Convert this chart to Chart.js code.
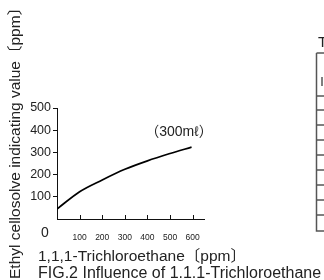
<!DOCTYPE html>
<html>
<head>
<meta charset="utf-8">
<script src="https://cdn.jsdelivr.net/npm/chart.js@4/dist/chart.umd.min.js"></script>
<style>
  html, body { margin: 0; padding: 0; background: #fff; }
  #wrap { width: 324px; height: 280px; position: relative; }
</style>
</head>
<body>
<div id="wrap"><canvas id="fig"></canvas></div>
<script>
const trichloroPpm = [0, 100, 200, 300, 400, 500, 595];
const cellosolveValue = [45, 123, 176, 224, 262, 295, 324];
const yTicks = [100, 200, 300, 400, 500];
const xTicks = [100, 200, 300, 400, 500, 600];

const FONT = '"Liberation Sans", Arial, "Noto Sans CJK JP", sans-serif';
const INK = '#222';

// inward tick marks on the x axis + all loose text of the figure
const figureText = {
    id: 'figureText',
    afterDraw(chart) {
        const { ctx, scales: { x, y } } = chart;
        ctx.save();
        ctx.strokeStyle = '#111';
        ctx.lineWidth = 1;
        xTicks.forEach(v => {
            const px = Math.round(x.getPixelForValue(v)) + 0.5;
            ctx.beginPath();
            ctx.moveTo(px, y.bottom);
            ctx.lineTo(px, y.bottom - 4);
            ctx.stroke();
        });

        ctx.fillStyle = INK;
        ctx.textBaseline = 'alphabetic';
        ctx.textAlign = 'left';

        ctx.font = '14px ' + FONT;
        ctx.fillText('0', 41, 237);

        ctx.font = '14px ' + FONT;
        ctx.fillText('（300mℓ）', x.getPixelForValue(390), y.getPixelForValue(372));

        ctx.font = '15.5px ' + FONT;
        ctx.fillText('1,1,1-Trichloroethane〔ppm〕', 38, 261);
        ctx.save();
        ctx.translate(20, 279);
        ctx.rotate(-Math.PI / 2);
        ctx.fillText('Ethyl cellosolve indicating value〔ppm〕', 0, 0);
        ctx.restore();

        ctx.font = '16px ' + FONT;
        ctx.fillText('FIG.2 Influence of 1.1.1-Trichloroethane', 38, 278);

        // clipped table at the right edge
        ctx.font = '15px ' + FONT;
        ctx.fillText('T', 318, 47);
        ctx.strokeStyle = '#555';
        ctx.lineWidth = 1.5;
        ctx.beginPath();
        ctx.moveTo(316.5, 53);
        ctx.lineTo(316.5, 231);
        ctx.lineTo(324, 231);
        ctx.moveTo(316.5, 53);
        ctx.lineTo(324, 53);
        [96, 110, 125, 140, 155, 170, 185, 200, 215].forEach(ly => {
            ctx.moveTo(316.5, ly);
            ctx.lineTo(324, ly);
        });
        ctx.moveTo(322, 77);
        ctx.lineTo(322, 86);
        ctx.stroke();
        ctx.restore();
    }
};

new Chart(document.getElementById('fig'), {
    type: 'line',
    data: {
        datasets: [{
            data: trichloroPpm.map((v, i) => ({ x: v, y: cellosolveValue[i] })),
            borderColor: '#000',
            borderWidth: 1.7,
            pointRadius: 0,
            cubicInterpolationMode: 'monotone',
            fill: false
        }]
    },
    options: {
        responsive: true,
        maintainAspectRatio: false,
        animation: false,
        events: [],
        layout: { padding: { top: 108, right: 120, left: 0, bottom: 0 } },
        plugins: { legend: { display: false }, tooltip: { enabled: false } },
        scales: {
            x: {
                type: 'linear',
                min: 0,
                max: 650,
                afterFit: s => { s.height = 61; },
                afterBuildTicks: s => { s.ticks = xTicks.map(v => ({ value: v })); },
                grid: { display: false },
                border: { display: true, color: '#111', width: 1 },
                ticks: { color: INK, font: { family: FONT, size: 8.5 }, padding: 6, maxRotation: 0 }
            },
            y: {
                min: 0,
                max: 500,
                afterFit: s => { s.width = 57; },
                afterBuildTicks: s => { s.ticks = yTicks.map(v => ({ value: v })); },
                grid: { drawOnChartArea: false, tickLength: 4, color: '#111' },
                border: { display: true, color: '#111', width: 1 },
                ticks: { color: INK, font: { family: FONT, size: 12.5 }, padding: 2 }
            }
        }
    },
    plugins: [figureText]
});
</script>
</body>
</html>
